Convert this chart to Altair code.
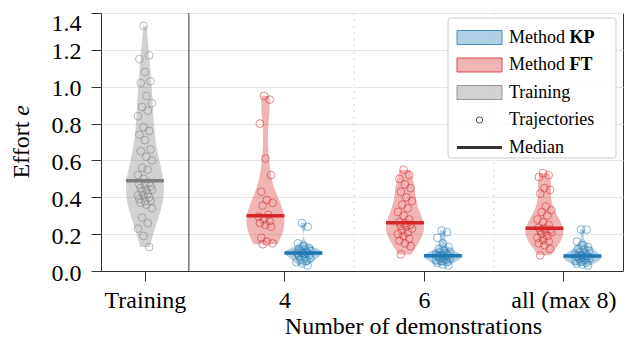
import json
import altair as alt
import pandas as pd

# ---------------- data ----------------
categories = ["Training", "4", "6", "all (max 8)"]
methods = ["KP", "FT", "Training"]

training_vals = [1.33, 1.17, 1.15, 1.08, 1.03, 1.02, 0.95, 0.91, 0.89, 0.87,
                 0.84, 0.78, 0.76, 0.74, 0.71, 0.66, 0.65, 0.62, 0.60, 0.56,
                 0.55, 0.52, 0.50, 0.48, 0.47, 0.47, 0.46, 0.45, 0.44, 0.44,
                 0.43, 0.42, 0.41, 0.41, 0.40, 0.39, 0.38, 0.38, 0.37, 0.36,
                 0.34, 0.29, 0.26, 0.23, 0.19, 0.13]

ft_4 = [0.95, 0.93, 0.80, 0.61, 0.52, 0.43, 0.385, 0.37, 0.355, 0.305,
        0.295, 0.28, 0.27, 0.26, 0.25, 0.24, 0.18, 0.16, 0.15, 0.145]
kp_4 = [0.26, 0.24, 0.15, 0.135, 0.125, 0.12, 0.115, 0.11, 0.107, 0.104,
        0.10, 0.099, 0.097, 0.094, 0.09, 0.085, 0.08, 0.075, 0.07, 0.062,
        0.055, 0.048, 0.04, 0.03]

ft_6 = [0.55, 0.52, 0.50, 0.47, 0.45, 0.43, 0.40, 0.38, 0.36, 0.34,
        0.32, 0.30, 0.28, 0.265, 0.258, 0.252, 0.245, 0.24, 0.23, 0.22,
        0.21, 0.20, 0.19, 0.175, 0.165, 0.15, 0.135, 0.09]
kp_6 = [0.22, 0.21, 0.18, 0.15, 0.13, 0.12, 0.11, 0.105, 0.10, 0.095,
        0.09, 0.088, 0.086, 0.083, 0.082, 0.08, 0.077, 0.074, 0.07, 0.066,
        0.062, 0.058, 0.053, 0.048, 0.042, 0.035, 0.03]

ft_all = [0.53, 0.52, 0.51, 0.45, 0.44, 0.42, 0.35, 0.33, 0.32, 0.30,
          0.28, 0.265, 0.25, 0.235, 0.23, 0.225, 0.22, 0.215, 0.21, 0.20,
          0.19, 0.18, 0.17, 0.16, 0.15, 0.14, 0.12, 0.085]
kp_all = [0.225, 0.225, 0.16, 0.14, 0.13, 0.12, 0.115, 0.11, 0.10, 0.095,
          0.09, 0.087, 0.084, 0.081, 0.08, 0.078, 0.075, 0.072, 0.068, 0.064,
          0.06, 0.055, 0.05, 0.045, 0.04, 0.035, 0.03]

y_ticks = [0.0, 0.2, 0.4, 0.6, 0.8, 1.0, 1.2, 1.4]

legend_keys = ["KP", "FT", "Training", "Trajectories", "Median"]
legend_text = ["Method", "Method", "Training", "Trajectories", "Median"]
legend_bold = ["KP", "FT", "", "", ""]

# ---------------- styles / layout ----------------
colors = ["#1f77b4", "#d62728", "#7f7f7f"]
FONT = "Liberation Serif"
HALF = 0.136          # half width of a violin, in x units
X_DOM = [-0.315, 3.427]

rows = [("Training", "Training", v) for v in training_vals]
for cat, ft, kp in zip(categories[1:], [ft_4, ft_6, ft_all], [kp_4, kp_6, kp_all]):
    rows += [(cat, "FT", v) for v in ft]
    rows += [(cat, "KP", v) for v in kp]
df = pd.DataFrame(rows, columns=["cat", "method", "value"])

cats_js = json.dumps(categories)
center_expr = (f"indexof({cats_js}, datum.cat) + (datum.method === 'FT' ? {-HALF} : "
               f"(datum.method === 'KP' ? {HALF} : 0))")

xscale = alt.Scale(domain=X_DOM, nice=False, zero=False)
yscale = alt.Scale(domain=[0, 1.4], nice=False, zero=False)
cscale = alt.Scale(domain=methods, range=colors)

x_axis = alt.Axis(values=list(range(len(categories))),
                  labelExpr=f"{cats_js}[datum.value]",
                  title="Number of demonstrations", titleX=312,
                  grid=False, tickSize=10, labelPadding=7, titlePadding=2,
                  labelFlush=False, labelOverlap=False, labelAngle=0)
y_axis = alt.Axis(values=y_ticks, format=".1f", title=None, tickSize=10,
                  labelPadding=10,
                  labelOffset={"condition": {"test": f"datum.value >= {y_ticks[-1]}", "value": 10},
                               "value": 2},
                  grid=True, labelFlush=False, labelOverlap=False)


def X(field):
    return alt.X(field, type="quantitative", scale=xscale, axis=x_axis)


def Y(field):
    return alt.Y(field, type="quantitative", scale=yscale, axis=y_axis)


base = alt.Chart(df)

violins = base.transform_density(
    "value", as_=["value", "density"], groupby=["cat", "method"],
    steps=150, resolve="independent"
).transform_joinaggregate(
    dmax="max(density)", groupby=["cat", "method"]
).transform_calculate(
    center=center_expr,
    half=f"datum.density / datum.dmax * {HALF}",
).transform_calculate(
    xl="datum.center - datum.half",
    xr="datum.center + datum.half",
).mark_area(orient="horizontal", opacity=0.35).encode(
    y=Y("value"),
    x=alt.X("xl:Q", scale=xscale, axis=x_axis, stack=None),
    x2="xr:Q",
    color=alt.Color("method:N", scale=cscale, legend=None),
    detail="cat:N",
)

points = base.transform_window(
    rn="row_number()", groupby=["cat", "method"]
).transform_calculate(
    center=center_expr
).transform_calculate(
    px="datum.center + ((datum.rn * 37) % 11 - 5) / 5 * 0.05"
).mark_point(filled=False, size=60, strokeWidth=1, opacity=0.55).encode(
    x=X("px"), y=Y("value"),
    color=alt.Color("method:N", scale=cscale, legend=None),
)

medians = base.transform_aggregate(
    med="median(value)", groupby=["cat", "method"]
).transform_calculate(
    center=center_expr
).transform_calculate(
    xl=f"datum.center - {HALF}", xr=f"datum.center + {HALF}"
).mark_rule(strokeWidth=3.5).encode(
    x=X("xl"), x2="xr:Q", y=Y("med"),
    color=alt.Color("method:N", scale=cscale, legend=None),
)

bounds_df = pd.DataFrame({"b": [i + 0.5 for i in range(1, len(categories) - 1)]})
dotted = alt.Chart(bounds_df).mark_rule(color="#cfcfcf", strokeWidth=1.2,
                                         strokeDash=[1.5, 5]).encode(x=X("b"))
sep_df = pd.DataFrame({"b": [-X_DOM[0]]})
separator = alt.Chart(sep_df).mark_rule(color="#333333", strokeWidth=1).encode(x=X("b"))

one = pd.DataFrame({"a": [1]})

# y title "Effort e" (e in italics)
ytitle1 = alt.Chart(one).mark_text(text="Effort", angle=270, align="right", baseline="middle",
                                   font=FONT, fontSize=24, color="black").encode(
    x=alt.value(-79), y=alt.value(108.7))
ytitle2 = alt.Chart(one).mark_text(text="e", angle=270, align="left", baseline="middle",
                                   font=FONT, fontSize=24, fontStyle="italic", color="black").encode(
    x=alt.value(-79), y=alt.value(102.7))

# legend
legend_layers = [
    alt.Chart(one).mark_rect(fill="white", fillOpacity=0.85, stroke="#cccccc",
                             strokeWidth=1, cornerRadius=3).encode(
        x=alt.value(347), x2=alt.value(515), y=alt.value(5), y2=alt.value(145))
]
for i, (key, txt, bold) in enumerate(zip(legend_keys, legend_text, legend_bold)):
    cy = 24.5 + 27.5 * i
    if key in methods:
        col = colors[methods.index(key)]
        legend_layers.append(alt.Chart(one).mark_rect(
            fill=col, fillOpacity=0.35, stroke=col, strokeWidth=1, strokeOpacity=0.8).encode(
            x=alt.value(356), x2=alt.value(401), y=alt.value(cy - 7), y2=alt.value(cy + 7)))
    elif key == "Trajectories":
        legend_layers.append(alt.Chart(one).mark_point(
            shape="circle", filled=False, size=40, color="black", strokeWidth=1).encode(
            x=alt.value(378.5), y=alt.value(cy)))
    else:
        legend_layers.append(alt.Chart(one).mark_rule(color="#333333", strokeWidth=3).encode(
            x=alt.value(356), x2=alt.value(401), y=alt.value(cy)))
    legend_layers.append(alt.Chart(one).mark_text(
        text=txt, align="left", baseline="middle", font=FONT, fontSize=18, color="black").encode(
        x=alt.value(408), y=alt.value(cy)))
    if bold:
        legend_layers.append(alt.Chart(one).mark_text(
            text=bold, align="left", baseline="middle", font=FONT, fontSize=18,
            fontWeight="bold", color="black").encode(
            x=alt.value(408 + 3.361 * 18), y=alt.value(cy)))

chart = alt.layer(
    dotted, separator, violins, points, medians, ytitle1, ytitle2, *legend_layers
).properties(
    width=522, height=258,
    autosize=alt.AutoSizeParams(type="none"),
    padding={"left": 93, "top": 5, "right": 5, "bottom": 70},
    background="white",
).configure_view(
    stroke="#333333", strokeWidth=1
).configure_axis(
    labelFont=FONT, titleFont=FONT, labelFontSize=24, titleFontSize=24,
    titleFontWeight="normal", labelColor="black", titleColor="black",
    tickColor="#333333", domainColor="#333333", tickWidth=1,
    gridColor="#e6e6e6", gridWidth=1,
)

chart.save("out.html", embed_options={"renderer": "svg", "actions": False})
